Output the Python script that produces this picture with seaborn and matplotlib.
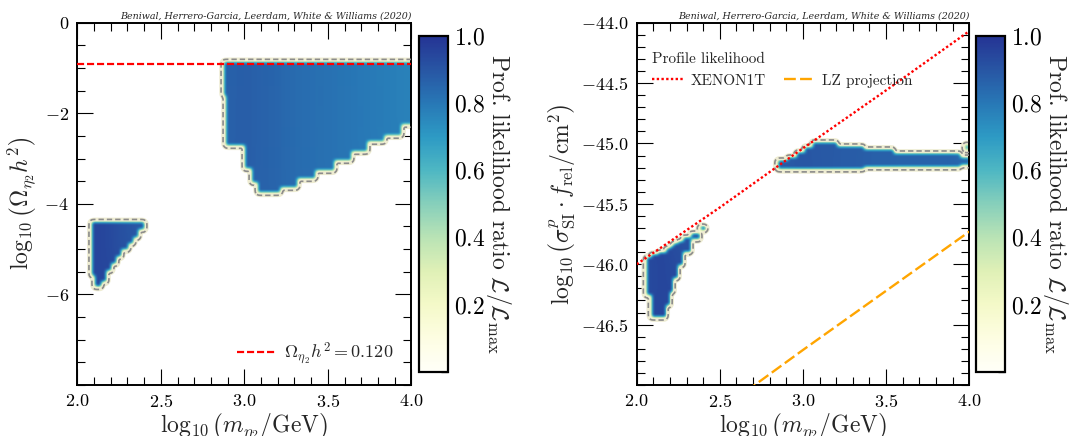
import numpy as np
import matplotlib
matplotlib.use("Agg")
import matplotlib.pyplot as plt
from matplotlib.ticker import MultipleLocator, FixedLocator
import seaborn as sns

# ---------------------------------------------------------------------------
# Profile-likelihood islands, stored column by column:
# column edges in log10(m/GeV), lower / upper bound of the column, and the
# likelihood ratio inside the column.
# ---------------------------------------------------------------------------
# left panel: log10(Omega h^2)
relic_low_edges = [2.076, 2.096, 2.136, 2.166, 2.200, 2.230, 2.260, 2.300, 2.330, 2.360, 2.395]
relic_low_lower = [-5.61, -5.86, -5.75, -5.50, -5.35, -5.20, -5.05, -4.90, -4.78, -4.60]
relic_low_upper = [-4.43, -4.43, -4.43, -4.43, -4.43, -4.43, -4.43, -4.43, -4.43, -4.43]
relic_low_like = [0.93, 0.95, 0.95, 0.94, 0.93, 0.92, 0.91, 0.90, 0.89, 0.88]

relic_high_edges = [2.869, 2.884, 2.993, 3.034, 3.074, 3.213, 3.313, 3.423, 3.533,
                    3.633, 3.733, 3.833, 3.933, 4.060]
relic_high_lower = [-1.63, -2.74, -3.25, -3.55, -3.77, -3.66, -3.47, -3.29, -3.07,
                    -2.88, -2.66, -2.52, -2.28]
relic_high_upper = [-0.88, -0.88, -0.88, -0.88, -0.88, -0.88, -0.88, -0.88, -0.88,
                    -0.88, -0.88, -0.88, -0.88]
relic_high_like = [0.85, 0.87, 0.88, 0.87, 0.86, 0.84, 0.83, 0.82, 0.81,
                   0.80, 0.79, 0.78, 0.77]

omega_planck = 0.120

# right panel: log10(sigma_SI^p * f_rel / cm^2)
dd_low_edges = [2.05, 2.08, 2.12, 2.17, 2.19, 2.21, 2.24, 2.27, 2.32, 2.37, 2.41]
dd_low_lower = [-46.27, -46.45, -46.45, -46.35, -46.24, -46.13, -46.02, -45.91, -45.80, -45.73]
dd_low_upper = [-45.95, -45.93, -45.91, -45.88, -45.86, -45.84, -45.82, -45.79, -45.75, -45.70]
dd_low_like = [0.92, 0.94, 0.95, 0.94, 0.93, 0.93, 0.92, 0.91, 0.90, 0.89]

dd_high_edges = [2.84, 2.90, 2.95, 3.00, 3.05, 3.20, 3.36, 3.54, 3.94, 4.00]
dd_high_lower = [-45.22, -45.22, -45.22, -45.22, -45.22, -45.22, -45.21, -45.21, -45.19]
dd_high_upper = [-45.15, -45.12, -45.08, -45.04, -45.00, -45.03, -45.06, -45.09, -45.12]
dd_high_like = [0.88, 0.89, 0.90, 0.90, 0.89, 0.88, 0.87, 0.86, 0.84]

dd_spot_edges = [3.962, 3.992]
dd_spot_lower = [-45.065]
dd_spot_upper = [-45.015]
dd_spot_like = [0.60]

# direct-detection limits
xenon_mass = [2.0, 2.5, 3.0, 3.5, 4.0]
xenon_sigma = [-46.00, -45.53, -45.04, -44.56, -44.07]
lz_mass = [2.5, 3.0, 3.5, 4.0]
lz_sigma = [-47.21, -46.71, -46.22, -45.73]

relic_yticks = [0, -2, -4, -6]
dd_yticks = [-44.0, -44.5, -45.0, -45.5, -46.0, -46.5]
mass_ticks = [2.0, 2.5, 3.0, 3.5, 4.0]
cbar_ticks = [0.2, 0.4, 0.6, 0.8, 1.0]

citation = "Beniwal, Herrero-Garcia, Leerdam, White & Williams (2020)"

# colour scale for the likelihood ratio (white -> yellow -> green -> blue)
ratio_colours = ["#fffff8", "#fdfde2", "#f4f9c8", "#dff0b6", "#b9e3b5", "#86cfbb",
                 "#4eb7c3", "#2d9ac4", "#2878b6", "#2856a4", "#253494"]

# ---------------------------------------------------------------------------
sns.set_theme(style="ticks")
plt.rcParams.update({
    "font.family": "serif",
    "font.serif": ["cmr10"],
    "mathtext.fontset": "cm",
    "axes.formatter.use_mathtext": True,
    "axes.unicode_minus": True,
    "axes.linewidth": 1.4,
    "axes.edgecolor": "black",
    "xtick.color": "black",
    "ytick.color": "black",
})

cmap = sns.blend_palette(ratio_colours, n_colors=256, as_cmap=True)


def box_smooth(Z, w, passes=2):
    k = np.ones(w) / w
    for _ in range(passes):
        Z = np.apply_along_axis(lambda r: np.convolve(r, k, mode="same"), 1, Z)
        Z = np.apply_along_axis(lambda c: np.convolve(c, k, mode="same"), 0, Z)
    return Z


def likelihood_field(xg, yg, islands, edge_w=4, body_w=15):
    X, Y = np.meshgrid(xg, yg)
    inside = np.zeros_like(X)
    like = np.zeros_like(X)
    for edges, lower, upper, vals in islands:
        for i in range(len(lower)):
            m = (X >= edges[i]) & (X < edges[i + 1]) & (Y >= lower[i]) & (Y <= upper[i])
            inside[m] = 1.0
            like[m] = vals[i]
    # soft island edges, smoothly varying interior
    edge = box_smooth(inside, edge_w)
    wsum = box_smooth(inside, body_w)
    body = np.where(wsum > 1e-6, box_smooth(like, body_w) / np.maximum(wsum, 1e-6), 0.0)
    return edge * body


def draw_field(ax, xg, yg, Z, level=0.06):
    Zm = np.ma.masked_less(Z, level)
    im = ax.imshow(Zm, origin="lower", aspect="auto", cmap=cmap, vmin=0, vmax=1,
                   extent=[xg[0], xg[-1], yg[0], yg[-1]], interpolation="bilinear",
                   zorder=1)
    ax.contour(xg, yg, Z, levels=[level], colors="#eeecd2", linewidths=2.6, zorder=2)
    cs = ax.contour(xg, yg, Z, levels=[level], colors="#8c8c8c", linewidths=1.2, zorder=3)
    cs.set_linestyle((0, (3.2, 1.8)))
    return im


def style_axes(ax):
    ax.tick_params(which="both", direction="in", top=True, right=True,
                   labelsize=13, pad=6)
    ax.tick_params(which="major", length=11.5, width=0.8)
    ax.tick_params(which="minor", length=5.5, width=0.8)
    ax.xaxis.set_major_locator(FixedLocator(mass_ticks))
    ax.xaxis.set_minor_locator(MultipleLocator(0.1))
    for s in ax.spines.values():
        s.set_linewidth(1.4)


def style_cbar(cb):
    cb.set_ticks(cbar_ticks)
    cb.ax.yaxis.set_minor_locator(MultipleLocator(0.05))
    cb.ax.tick_params(which="both", direction="in", right=True, left=False,
                      labelsize=17, pad=4)
    cb.ax.tick_params(which="major", length=11, width=0.9)
    cb.ax.tick_params(which="minor", length=5, width=0.9)
    cb.outline.set_linewidth(1.6)
    cb.set_label(r"Prof. likelihood ratio $\mathcal{L}/\mathcal{L}_{\mathrm{max}}$",
                 rotation=270, fontsize=17, labelpad=20)


fig = plt.figure(figsize=(10.69, 4.36), dpi=100)
ax1 = fig.add_axes([0.0723, 0.117, 0.3126, 0.831])
cax1 = fig.add_axes([0.392, 0.1477, 0.0274, 0.7697])
ax2 = fig.add_axes([0.5956, 0.117, 0.3111, 0.831])
cax2 = fig.add_axes([0.913, 0.1477, 0.0274, 0.7697])

mass_label = r"$\log_{10}\left(m_{\eta_2}/\mathrm{GeV}\right)$"

# ---- left panel: relic abundance ----
xg1 = np.arange(1.95, 4.10, 2.0 / 334)
yg1 = np.arange(-8.3, 0.3, 8.0 / 362)
Z1 = likelihood_field(xg1, yg1, [
    (relic_low_edges, relic_low_lower, relic_low_upper, relic_low_like),
    (relic_high_edges, relic_high_lower, relic_high_upper, relic_high_like),
])
im1 = draw_field(ax1, xg1, yg1, Z1)
ax1.axhline(np.log10(omega_planck), color="red", lw=1.6, ls=(0, (3.2, 1.3)), zorder=4,
            label=r"$\Omega_{\eta_2}h^2 = %.3f$" % omega_planck)
ax1.set_xlim(2.0, 4.0)
ax1.set_ylim(-8.0, 0.0)
style_axes(ax1)
ax1.yaxis.set_major_locator(FixedLocator(relic_yticks))
ax1.yaxis.set_minor_locator(MultipleLocator(0.5))
ax1.set_xlabel(mass_label, fontsize=17, labelpad=1)
ax1.set_ylabel(r"$\log_{10}\left(\Omega_{\eta_2}h^2\right)$", fontsize=17, labelpad=4)
ax1.legend(loc="lower right", frameon=False, fontsize=13, handlelength=2.2,
           handletextpad=0.4, borderaxespad=0.6)
ax1.text(1.0, 1.006, citation, transform=ax1.transAxes, ha="right", va="bottom",
         fontsize=6.8, style="italic", family="DejaVu Serif")
cb1 = fig.colorbar(im1, cax=cax1)
style_cbar(cb1)

# ---- right panel: direct detection ----
xg2 = np.arange(1.95, 4.10, 2.0 / 334)
yg2 = np.arange(-47.2, -43.8, 3.0 / 362)
Z2 = likelihood_field(xg2, yg2, [
    (dd_low_edges, dd_low_lower, dd_low_upper, dd_low_like),
    (dd_high_edges, dd_high_lower, dd_high_upper, dd_high_like),
    (dd_spot_edges, dd_spot_lower, dd_spot_upper, dd_spot_like),
])
im2 = draw_field(ax2, xg2, yg2, Z2)
sns.lineplot(x=xenon_mass, y=xenon_sigma, ax=ax2, color="red", lw=1.7,
             linestyle=(0, (1.0, 1.0)), label="XENON1T", zorder=4)
sns.lineplot(x=lz_mass, y=lz_sigma, ax=ax2, color="orange", lw=1.7,
             linestyle=(0, (5.0, 1.8)), label="LZ projection", zorder=4)
ax2.set_xlim(2.0, 4.0)
ax2.set_ylim(-47.0, -44.0)
style_axes(ax2)
ax2.yaxis.set_major_locator(FixedLocator(dd_yticks))
ax2.yaxis.set_minor_locator(MultipleLocator(0.1))
ax2.set_xlabel(mass_label, fontsize=17, labelpad=1)
ax2.set_ylabel(r"$\log_{10}\left(\sigma^{p}_{\mathrm{SI}}\cdot f_{\mathrm{rel}}/\mathrm{cm}^2\right)$",
               fontsize=17, labelpad=2)
ax2.legend(loc="upper left", bbox_to_anchor=(0.028, 0.935), frameon=False, ncol=2,
           fontsize=11, title="Profile likelihood", title_fontsize=11,
           alignment="left", handlelength=2.1, handletextpad=0.4,
           columnspacing=1.2, borderaxespad=0.0)
ax2.text(1.0, 1.006, citation, transform=ax2.transAxes, ha="right", va="bottom",
         fontsize=6.8, style="italic", family="DejaVu Serif")
cb2 = fig.colorbar(im2, cax=cax2)
style_cbar(cb2)

fig.savefig("out.png", dpi=100)
